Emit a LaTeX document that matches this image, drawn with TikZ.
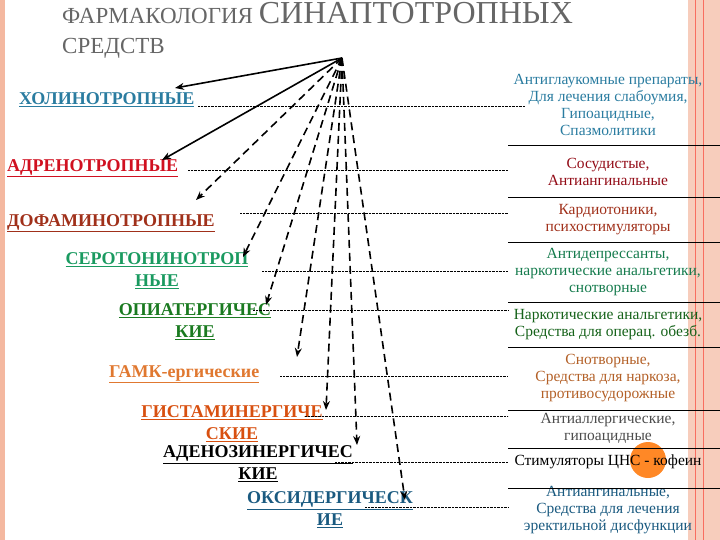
\documentclass[tikz,border=0pt]{standalone}
\usepackage{fontspec}
\setmainfont{Liberation Serif}
\usetikzlibrary{arrows.meta}
\begin{document}
\begin{tikzpicture}[x=1pt,y=-1pt,
 lab/.style={font=\fontsize{18}{22}\selectfont\bfseries,align=center,inner sep=1pt},
 rt/.style={font=\fontsize{15.5}{17}\selectfont,align=center,inner sep=1pt},
 dl/.style={densely dotted,thin},
 sep/.style={line width=0.8pt},
 sa/.style={-{Stealth[length=9pt,width=7pt]},line width=1.6pt},
 da/.style={sa,dash pattern=on 8pt off 5pt}]
\useasboundingbox (0,0) rectangle (720,540);
\definecolor{cb}{HTML}{2A7CA0}\definecolor{cr}{HTML}{D01020}\definecolor{cbr}{HTML}{A0301A}
\definecolor{cg}{HTML}{1A9A60}\definecolor{cdg}{HTML}{1A7A20}\definecolor{co}{HTML}{E07830}
\definecolor{cor}{HTML}{D85010}\definecolor{cdb}{HTML}{1A5A80}\definecolor{sal}{HTML}{F4B8A0}
\fill[sal] (0,0) rectangle (5,540);
\fill[sal!70] (688,0) rectangle (720,540);
\draw[sal!60!red,thick] (695,0)--(695,540) (703,0)--(703,540);
\node[anchor=base west,text=gray!80!black,inner sep=0] (t) at (62,24) {\fontsize{23}{26}\selectfont ФАРМАКОЛОГИЯ \fontsize{32}{34}\selectfont СИНАПТОТРОПНЫХ};
\node[anchor=base west,text=gray!80!black,font=\fontsize{23}{26}\selectfont,inner sep=0] (t2) at (62,54) {СРЕДСТВ};
\coordinate (o) at (342,58);
\node[lab,text=cb,anchor=west] (l1) at (18,100) {\underline{ХОЛИНОТРОПНЫЕ}};
\node[lab,text=cr,anchor=west] (l2) at (6,168) {\underline{АДРЕНОТРОПНЫЕ}};
\node[lab,text=cbr,anchor=west] (l3) at (6,223) {\underline{ДОФАМИНОТРОПНЫЕ}};
\node[lab,text=cg] (l4) at (157,271) {\underline{СЕРОТОНИНОТРОП}\\\underline{НЫЕ}};
\node[lab,text=cdg] (l5) at (195,322) {\underline{ОПИАТЕРГИЧЕС}\\\underline{КИЕ}};
\node[lab,text=co,anchor=west] (l6) at (108,374) {\underline{ГАМК-ергические}};
\node[lab,text=cor] (l7) at (232,424) {\underline{ГИСТАМИНЕРГИЧЕ}\\\underline{СКИЕ}};
\node[lab,text=black] (l8) at (258,464) {\underline{АДЕНОЗИНЕРГИЧЕС}\\\underline{КИЕ}};
\node[lab,text=cdb] (l9) at (330,510) {\underline{ОКСИДЕРГИЧЕСК}\\\underline{ИЕ}};
\node[rt,text=cb] (r1) at (608,105) {Антиглаукомные препараты,\\Для лечения слабоумия,\\Гипоацидные,\\Спазмолитики};
\node[rt,text=cr!70!black] (r2) at (608,172) {Сосудистые,\\Антиангинальные};
\node[rt,text=cbr] (r3) at (608,220) {Кардиотоники,\\психостимуляторы};
\node[rt,text=cg!80!black] (r4) at (608,272) {Антидепрессанты,\\наркотические анальгетики,\\снотворные};
\node[rt,text=cdg!80!black] (r5) at (608,325) {Наркотические анальгетики,\\Средства для операц. обезб.};
\node[rt,text=co!80!black] (r6) at (608,378) {Снотворные,\\Средства для наркоза,\\противосудорожные};
\node[rt,text=black!70] (r7) at (608,428) {Антиаллергические,\\гипоацидные};
\fill[orange!90!red,opacity=0.85] (648,460) circle (18);
\node[rt,text=black] (r8) at (608,462) {Стимуляторы ЦНС - кофеин};
\node[rt,text=cdb] (r9) at (608,510) {Антиангинальные,\\Средства для лечения\\эректильной дисфункции};
\foreach \y in {145,197,242,302,347,410,448,488} \draw[sep] (508,\y)--(720,\y);
\draw[dl] (198,106) -- (525,106);
\draw[dl] (188,170) -- (508,170);
\draw[dl] (240,213) -- (508,213);
\draw[dl] (262,271) -- (508,271);
\draw[dl] (253,310) -- (508,310);
\draw[dl] (280,376) -- (508,376);
\draw[dl] (305,416) -- (508,416);
\draw[dl] (335,462) -- (508,462);
\draw[dl] (365,507) -- (508,507);
\draw[sa] (o) -- (175,88);
\draw[sa] (o) -- (162,160);
\draw[da] (o) -- (196,200);
\draw[da] (o) -- (243,257);
\draw[da] (o) -- (266,305);
\draw[da] (o) -- (297,357);
\draw[da] (o) -- (326,410);
\draw[da] (o) -- (357,445);
\draw[da] (o) -- (405,500);
\end{tikzpicture}
\end{document}
